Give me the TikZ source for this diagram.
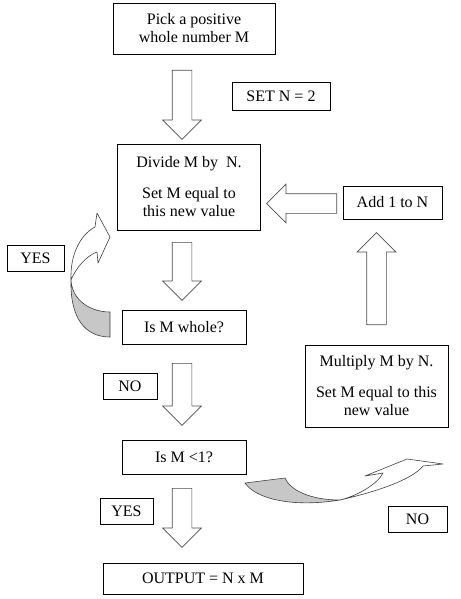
\documentclass[tikz,border=0pt]{standalone}
\usepackage{fontspec}
\setmainfont{Liberation Serif}
\usetikzlibrary{shapes.arrows}

\begin{document}
\begin{tikzpicture}[x=1pt, y=-1pt,
    box/.style={draw, line width=0.8pt, align=center, inner sep=2pt, font=\fontsize{16}{18}\selectfont},
    blk/.style={single arrow, draw=black!70, line width=0.7pt, inner sep=9.5pt, minimum width=38pt, single arrow head extend=9.5pt, single arrow tip angle=90, anchor=tail},
    ribbonback/.style={draw=black!75, line width=0.6pt, fill=black!22, line join=round},
    ribbonfront/.style={draw=black!75, line width=0.6pt, fill=white, line join=round}
]
\useasboundingbox (0,0) rectangle (460,599);

% boxes
\node[box, minimum width=162pt, minimum height=51pt] (P) at (194,28.5) {Pick a positive\\whole number M};
\node[box, minimum width=98pt, minimum height=28pt] (SN) at (281,96) {SET N = 2};
\node[box, minimum width=143pt, minimum height=86pt] (D) at (189,187) {Divide M by\ \ N.\\[13pt]Set M equal to\\this new value};
\node[box, minimum width=99pt, minimum height=33pt] (A) at (392.5,202.5) {Add 1 to N};
\node[box, minimum width=124pt, minimum height=34pt] (W) at (184,327) {Is M whole?};
\node[box, minimum width=57pt, minimum height=26pt] (Y1) at (35.5,258) {YES};
\node[box, minimum width=54pt, minimum height=26pt] (N1) at (130,386) {NO};
\node[box, minimum width=124pt, minimum height=34pt] (L) at (184,457) {Is M <1?};
\node[box, minimum width=143pt, minimum height=82pt] (M) at (376.5,386) {Multiply M by N.\\[13pt]Set M equal to this\\new value};
\node[box, minimum width=53pt, minimum height=26pt] (Y2) at (126.5,511) {YES};
\node[box, minimum width=59pt, minimum height=26pt] (N2) at (417.5,519) {NO};
\node[box, minimum width=200pt, minimum height=31pt] (O) at (203,578.5) {OUTPUT = N x M};

% block arrows
\node[blk, shape border rotate=270, minimum height=69pt] (a1) at (182,70) {};
\node[blk, shape border rotate=270, minimum height=58pt] (a2) at (182,242) {};
\node[blk, shape border rotate=270, minimum height=62pt] (a3) at (182,363) {};
\node[blk, shape border rotate=270, minimum height=59pt] (a4) at (182,488) {};
\node[blk, shape border rotate=180, minimum height=70pt] (aL) at (337,203.5) {};
\node[blk, shape border rotate=90, minimum height=92pt] (aU) at (376.5,325) {};

% curved arrow, YES loop
\draw[ribbonback] (110,312) .. controls (90,312) and (72,300) .. (71,280)
    .. controls (70,318) and (85,337) .. (110,337) -- cycle;
\draw[ribbonfront] (71,280) .. controls (70,255) and (80,235) .. (95,227)
    -- (97,213) -- (110,237) -- (98,263) -- (97,252)
    .. controls (86,256) and (76,268) .. (71,280) -- cycle;

% curved arrow, NO exit
\draw[ribbonback] (245,483) -- (285,478) .. controls (290,490) and (310,500) .. (340,500)
    .. controls (290,508) and (255,498) .. (245,483) -- cycle;
\draw[ribbonfront] (340,500) .. controls (360,495) and (378,483) .. (383,473)
    -- (365,476) -- (407,459) -- (443,464) -- (423,466)
    .. controls (412,480) and (375,492) .. (340,500) -- cycle;
\end{tikzpicture}
\end{document}
